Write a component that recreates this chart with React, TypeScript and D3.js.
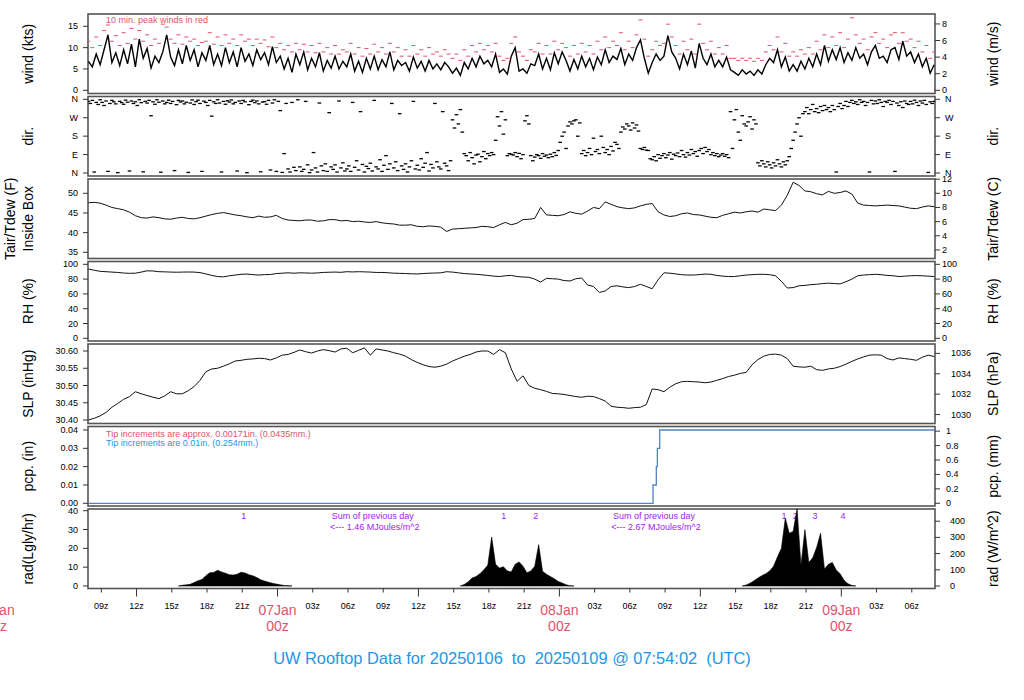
import { useEffect, useRef } from 'react';
import * as d3 from 'd3';

// 72 h window ending at the report time
const START = Date.UTC(2025, 0, 6, 7, 54, 2);
const END = Date.UTC(2025, 0, 9, 7, 54, 2);

// wind speed (kts) and 10 min peak (kts), one value every 20 minutes from START
const windKts = [
  6.8, 5.5, 8.5, 6.0, 9.5, 13.0, 6.5, 8.8, 5.8, 9.5, 6.2, 10.8,
  5.5, 12.0, 7.5, 9.8, 5.2, 8.0, 6.5, 9.0, 13.0, 7.8, 5.8, 9.5,
  6.2, 10.5, 7.0, 9.5, 5.5, 8.8, 7.0, 10.5, 6.0, 8.5, 5.8, 10.0,
  6.5, 9.0, 5.5, 10.0, 6.8, 8.5, 5.8, 9.5, 7.2, 8.8, 6.0, 10.2,
  6.5, 8.0, 5.0, 7.5, 4.2, 8.5, 6.0, 9.0, 4.8, 7.5, 5.5, 8.8,
  4.5, 7.0, 5.2, 8.0, 5.0, 6.8, 5.5, 8.5, 4.5, 6.8, 4.2, 7.5,
  5.0, 8.0, 4.8, 7.2, 5.5, 9.0, 4.8, 7.0, 5.8, 6.5, 4.5, 7.8,
  5.2, 6.8, 4.5, 7.0, 5.0, 6.2, 4.8, 6.5, 5.5, 4.0, 5.2, 3.5,
  6.5, 5.0, 7.5, 5.5, 8.0, 6.2, 7.0, 5.5, 8.5, 4.2, 5.0, 3.8,
  8.0, 10.0, 4.5, 5.0, 4.0, 6.2, 5.8, 8.5, 5.0, 7.5, 4.8, 8.8,
  6.2, 9.0, 7.0, 4.5, 7.2, 5.0, 8.0, 5.5, 7.5, 4.8, 7.8, 6.0,
  9.5, 6.5, 8.0, 7.2, 9.8, 6.0, 8.5, 7.0, 10.0, 11.8, 7.5, 4.0,
  6.5, 8.5, 7.0, 8.0, 12.8, 9.0, 7.5, 5.0, 8.5, 6.0, 9.2, 5.2,
  11.0, 7.5, 6.0, 8.5, 5.5, 7.0, 5.5, 7.8, 4.8, 4.2, 3.5, 4.8,
  3.8, 4.5, 3.5, 4.8, 3.8, 6.0, 7.5, 6.5, 9.5, 5.5, 7.8, 4.5,
  6.0, 4.5, 6.8, 5.0, 7.5, 5.5, 8.5, 6.0, 10.5, 6.8, 9.5, 7.2,
  10.0, 6.5, 8.8, 7.0, 10.0, 7.5, 8.5, 6.0, 9.0, 10.5, 7.5, 8.0,
  6.5, 9.5, 10.0, 7.2, 11.5, 8.0, 9.0, 6.5, 8.5, 5.5, 7.5, 4.0,
  6.0,
];

const peakKts = [
  11.5, 10.0, 12.5, 10.5, 14.0, 15.3, 11.5, 12.8, 10.5, 13.5, 11.0, 14.5,
  12.0, 14.0, 11.5, 13.0, 10.5, 12.0, 11.0, 15.5, 14.8, 12.0, 11.0, 13.0,
  10.8, 12.5, 11.5, 12.0, 10.5, 11.2, 11.5, 13.5, 10.8, 12.5, 10.5, 13.0,
  11.0, 12.0, 10.5, 13.0, 11.5, 12.0, 10.5, 12.0, 11.0, 11.8, 10.2, 12.5,
  10.0, 11.0, 9.5, 10.5, 9.0, 11.0, 9.5, 10.8, 9.0, 10.5, 8.8, 11.0,
  9.0, 10.0, 8.5, 10.5, 8.5, 9.5, 9.0, 11.0, 8.5, 10.0, 8.0, 9.8,
  8.5, 10.8, 9.0, 10.0, 8.5, 11.0, 9.0, 10.0, 8.0, 9.5, 8.0, 10.5,
  8.5, 9.5, 8.0, 10.0, 8.5, 9.0, 8.0, 9.5, 8.5, 7.5, 8.5, 7.0,
  9.5, 8.0, 10.5, 9.0, 11.0, 9.5, 10.5, 9.0, 11.0, 8.0, 7.0, 7.5,
  11.0, 12.5, 9.0, 8.0, 7.0, 9.5, 9.0, 11.0, 8.5, 10.5, 8.5, 11.5,
  9.5, 11.0, 10.0, 8.0, 10.5, 8.5, 11.0, 9.0, 10.5, 8.5, 11.5, 9.5,
  12.5, 10.0, 11.5, 10.5, 13.5, 9.5, 11.5, 10.0, 13.0, 16.5, 12.0, 8.0,
  9.5, 11.5, 10.5, 11.0, 15.5, 12.5, 10.5, 8.5, 11.5, 9.5, 12.0, 8.5,
  15.5, 11.0, 9.5, 11.5, 8.5, 10.0, 8.5, 10.5, 7.5, 7.5, 7.0, 7.5,
  7.0, 7.5, 6.8, 7.5, 7.0, 9.0, 10.5, 9.5, 12.5, 9.0, 11.0, 8.0,
  9.0, 8.0, 9.5, 8.5, 10.0, 8.5, 11.5, 9.5, 13.0, 10.0, 12.5, 10.5,
  13.5, 10.0, 12.0, 17.0, 13.0, 11.0, 12.0, 9.5, 12.5, 13.5, 11.0, 12.0,
  10.0, 13.0, 13.5, 11.0, 13.5, 11.5, 12.0, 10.0, 11.5, 9.0, 10.5, 7.5,
  9.0,
];

// wind direction (deg), one value every 10 minutes from START
const dirDeg = [
  350, 340, 355, 5, 345, 335, 358, 345, 330, 352, 8, 340,
  355, 348, 338, 2, 350, 344, 336, 356, 346, 10, 352, 340,
  348, 330, 358, 344, 6, 350, 342, 355, 280, 348, 336, 358,
  346, 4, 352, 338, 345, 356, 340, 350, 12, 334, 355, 347,
  352, 338, 346, 3, 342, 357, 335, 349, 356, 340, 8, 351,
  345, 330, 355, 278, 348, 340, 358, 342, 5, 350, 336, 353,
  347, 357, 338, 345, 10, 352, 340, 355, 348, 2, 334, 350,
  356, 344, 352, 338, 6, 347, 349, 336, 355, 15, 342, 358,
  8, 350, 305, 3, 95, 340, 20, 5, 345, 28, 12, 358,
  30, 8, 18, 350, 40, 2, 15, 100, 25, 5, 342, 35,
  12, 45, 8, 295, 30, 18, 40, 5, 352, 25, 50, 10,
  20, 35, 8, 345, 28, 60, 15, 300, 42, 5, 33, 22,
  48, 10, 355, 30, 20, 65, 8, 38, 85, 18, 45, 340,
  25, 55, 12, 290, 35, 18, 45, 5, 30, 60, 350, 20,
  38, 15, 70, 28, 48, 100, 10, 42, 25, 340, 55, 30,
  20, 300, 48, 35, 12, 60, 260, 220, 285, 240, 310, 200,
  95, 85, 60, 100, 75, 45, 88, 92, 55, 80, 105, 70,
  95, 85, 100, 90, 160, 275, 230, 300, 190, 260, 85, 95,
  92, 88, 100, 80, 96, 70, 90, 255, 280, 240, 85, 60,
  78, 90, 85, 72, 95, 82, 88, 75, 92, 80, 100, 86,
  110, 150, 180, 200, 120, 230, 250, 240, 255, 260, 180, 245,
  95, 110, 85, 100, 120, 90, 170, 105, 115, 95, 180, 125,
  100, 115, 90, 130, 108, 150, 140, 120, 200, 225, 215, 240,
  230, 210, 245, 220, 235, 205, 120, 115, 125, 112, 110, 70,
  65, 80, 60, 90, 72, 85, 95, 75, 88, 100, 68, 92,
  85, 98, 80, 110, 90, 78, 100, 88, 115, 95, 105, 82,
  110, 120, 95, 125, 105, 115, 90, 100, 85, 95, 80, 88,
  95, 82, 90, 75, 300, 120, 260, 310, 200, 160, 280, 240,
  230, 250, 275, 215, 260, 240, 50, 35, 60, 45, 30, 55,
  40, 25, 50, 35, 65, 45, 30, 55, 40, 60, 80, 120,
  160, 200, 240, 270, 180, 290, 300, 320, 290, 310, 335, 300,
  315, 295, 325, 305, 330, 310, 320, 300, 330, 310, 5, 325,
  340, 315, 330, 350, 325, 345, 355, 340, 348, 335, 358, 345,
  350, 330, 345, 5, 355, 338, 352, 340, 358, 345, 325, 350,
  345, 355, 335, 350, 8, 342, 330, 348, 320, 352, 340, 335,
  350, 338, 356, 345, 330, 352, 342, 355, 335, 3, 348, 340,
  350,
];

// temperature (F), RH (%), sea level pressure (inHg): one value every 30 minutes
const tempF = [
  47.6, 47.7, 47.5, 47.0, 46.4, 46.1, 45.8, 45.2, 44.3, 43.8,
  43.7, 44.0, 43.8, 43.5, 43.4, 43.7, 43.9, 43.6, 43.5, 43.8,
  44.2, 44.6, 44.9, 45.1, 44.8, 44.5, 44.3, 44.0, 43.8, 44.2,
  43.9, 44.0, 44.4, 43.6, 43.2, 43.1, 43.0, 43.2, 43.2, 42.9,
  43.0, 43.3, 43.3, 43.0, 43.1, 42.8, 42.9, 42.7, 42.6, 42.8,
  42.5, 42.3, 42.2, 41.9, 41.9, 42.0, 41.6, 41.5, 41.7, 41.6,
  41.4, 40.3, 40.9, 41.0, 41.1, 41.2, 41.3, 41.6, 41.5, 41.3,
  42.0, 42.6, 42.0, 42.4, 43.3, 43.4, 43.6, 46.4, 44.5, 44.4,
  44.3, 44.6, 45.3, 44.9, 44.7, 45.5, 46.4, 46.1, 47.8, 47.2,
  46.6, 46.3, 46.1, 46.3, 46.8, 47.2, 47.4, 45.3, 44.5, 44.1,
  44.3, 44.8, 45.0, 44.6, 44.5, 44.2, 43.9, 43.8, 44.4, 44.8,
  45.2, 45.0, 45.3, 45.5, 45.2, 46.0, 45.8, 45.6, 47.0, 49.5,
  52.8, 52.0, 50.6, 50.4, 49.9, 49.6, 50.5, 50.0, 50.2, 50.6,
  49.8, 47.5, 47.0, 46.9, 46.8, 46.9, 47.0, 46.9, 46.8, 46.5,
  46.2, 46.1, 46.5, 46.8, 46.6,
];

const rhPct = [
  93.6, 92.0, 90.5, 90.0, 89.5, 89.0, 88.2, 87.8, 88.0, 89.5,
  91.2, 91.0, 90.0, 89.8, 89.5, 89.3, 89.5, 89.6, 89.5, 88.8,
  87.0, 85.0, 83.5, 83.0, 84.5, 85.5, 86.5, 86.8, 86.0, 85.5,
  86.0, 86.2, 87.5, 88.0, 88.5, 88.0, 88.5, 88.3, 88.0, 88.4,
  89.0, 89.3, 89.5, 89.2, 90.0, 89.7, 90.0, 89.8, 89.5, 89.0,
  89.0, 88.6, 88.0, 87.8, 87.5, 87.2, 87.0, 87.5, 88.0, 88.2,
  88.5, 90.0, 89.5, 88.5, 87.5, 87.0, 86.5, 85.8, 85.0, 84.0,
  83.5, 84.5, 85.0, 83.5, 82.8, 82.5, 80.0, 76.0, 81.0, 80.5,
  80.0, 78.0, 77.5, 80.5, 81.5, 72.0, 70.0, 62.0, 64.0, 70.0,
  71.0, 69.5, 68.5, 70.0, 73.0, 70.0, 67.0, 79.0, 88.5, 88.0,
  87.0, 86.0, 85.5, 85.5, 86.0, 86.8, 86.5, 85.0, 84.0, 83.5,
  83.5, 84.5, 85.5, 86.0, 86.5, 86.5, 86.0, 84.5, 77.0, 68.0,
  68.5, 71.0, 71.5, 72.5, 73.0, 74.0, 74.5, 74.0, 73.5, 76.5,
  80.0, 84.5, 85.5, 86.0, 86.5, 86.0, 85.0, 84.5, 83.5, 84.0,
  84.5, 84.8, 84.5, 84.0, 83.5,
];

const slpInHg = [
  30.400, 30.405, 30.412, 30.422, 30.437, 30.448, 30.460, 30.468, 30.482, 30.476,
  30.471, 30.466, 30.462, 30.470, 30.482, 30.476, 30.476, 30.485, 30.497, 30.515,
  30.540, 30.548, 30.550, 30.556, 30.563, 30.571, 30.573, 30.576, 30.577, 30.579,
  30.578, 30.574, 30.580, 30.588, 30.590, 30.596, 30.603, 30.598, 30.594, 30.600,
  30.604, 30.601, 30.597, 30.606, 30.608, 30.595, 30.602, 30.609, 30.588, 30.606,
  30.603, 30.600, 30.595, 30.591, 30.585, 30.575, 30.567, 30.560, 30.555, 30.553,
  30.556, 30.562, 30.571, 30.578, 30.585, 30.590, 30.597, 30.600, 30.600, 30.590,
  30.604, 30.595, 30.548, 30.512, 30.528, 30.500, 30.492, 30.488, 30.483, 30.477,
  30.476, 30.474, 30.471, 30.468, 30.466, 30.469, 30.468, 30.462, 30.455, 30.440,
  30.437, 30.436, 30.434, 30.436, 30.437, 30.445, 30.490, 30.488, 30.482, 30.495,
  30.505, 30.511, 30.512, 30.511, 30.510, 30.508, 30.510, 30.515, 30.520, 30.526,
  30.530, 30.535, 30.538, 30.560, 30.575, 30.585, 30.590, 30.591, 30.588, 30.578,
  30.556, 30.554, 30.553, 30.556, 30.546, 30.544, 30.548, 30.550, 30.555, 30.562,
  30.570, 30.577, 30.583, 30.588, 30.589, 30.588, 30.578, 30.574, 30.580, 30.578,
  30.576, 30.573, 30.582, 30.588, 30.584,
];

// rain gauge: hours after START of each tip, and accumulated inches
const pcpHours = [0, 48.07, 48.35, 48.44, 48.64, 72];
const pcpIn = [0, 0.01, 0.02, 0.03, 0.04, 0.04];

// solar radiation (Lgly/hr), 20 minute steps; each day starts at the given step index
const radStartSteps = [23, 95, 167];
const rad06 = [
  0, 0.4, 0.6, 0.9, 1.8, 2.8, 3.4, 5.5, 7.0, 7.2, 8.3, 7.5, 6.8, 6.0, 5.8,
  6.3, 7.3, 6.9, 6.0, 5.4, 4.5, 3.3, 2.6, 2.0, 1.5, 1.0, 0.6, 0.3, 0.1, 0,
];
const rad07 = [
  0, 0.8, 2.2, 4.2, 5.0, 6.5, 8.6, 11.0, 26.0, 11.5, 9.5, 10.2, 8.0, 7.5, 11.5,
  12.8, 10.5, 7.0, 8.0, 10.5, 22.0, 7.8, 6.2, 5.0, 3.8, 2.4, 1.6, 0.7, 0.1, 0,
];
const rad08 = [
  0, 0.5, 1.5, 2.8, 4.2, 5.5, 6.5, 8.0, 10.5, 15.5, 20.0, 36.0, 28.0, 29.0, 41.0,
  11.0, 30.0, 12.5, 15.0, 20.5, 28.0, 9.0, 11.5, 12.5, 8.5, 6.5, 3.0, 1.2, 0.3, 0,
];
const radMarkLabels = ['1', '1', '2', '1', '2', '3', '4'];
const radMarkHours = [13.23, 35.37, 38.08, 59.22, 60.2, 61.87, 64.25];
const radSumHours = [24.2, 48.15];
const radSumValues = ['1.46', '2.67'];

const TITLE = 'UW Rooftop Data for 20250106  to  20250109 @ 07:54:02  (UTC)';

const RED = '#DF536B';
const BLUE = '#2297E6';
const PURPLE = '#A020F0';
const FONT = '"Liberation Sans", Arial, Helvetica, sans-serif';

const hoursToDate = (h: number) => new Date(START + h * 3600000);
const stepDate = (i: number, minutes: number) => new Date(START + i * minutes * 60000);

export default function App() {
  const svgRef = useRef<SVGSVGElement>(null);

  useEffect(() => {
    if (!svgRef.current) return;
    const svg = d3.select(svgRef.current);
    svg.selectAll('*').remove();
    svg.attr('font-family', FONT);

    const left = 88;
    const right = 935;
    const panelH = 79.5;
    const tops = [14, 96.5, 179, 261.5, 344, 426.5, 509];

    const x = d3.scaleUtc()
      .domain([new Date(START), new Date(END)])
      .range([88.4, 934.1]);

    const fmt2 = d3.format('.2f');
    const compass: Record<number, string> = { 0: 'N', 90: 'E', 180: 'S', 270: 'W', 360: 'N' };
    const panels = [
      {
        domain: [-0.75, 17.88], leftTicks: [0, 5, 10, 15], leftFmt: (v: number) => String(v),
        rightTicks: [0, 2, 4, 6, 8], toLeft: (v: number) => v * 1.94384, rightFmt: (v: number) => String(v),
        rightX: 942, leftLabel: ['wind (kts)'], rightLabel: 'wind (m/s)',
      },
      {
        domain: [-14.7, 373.7], leftTicks: [0, 90, 180, 270, 360], leftFmt: (v: number) => compass[v],
        rightTicks: [0, 90, 180, 270, 360], toLeft: (v: number) => v, rightFmt: (v: number) => compass[v],
        rightX: 945, leftLabel: ['dir.'], rightLabel: 'dir.',
      },
      {
        domain: [33.42, 53.64], leftTicks: [35, 40, 45, 50], leftFmt: (v: number) => String(v),
        rightTicks: [2, 4, 6, 8, 10, 12], toLeft: (v: number) => v * 9 / 5 + 32, rightFmt: (v: number) => String(v),
        rightX: 942, leftLabel: ['Tair/Tdew (F)', 'Inside Box'], rightLabel: 'Tair/Tdew (C)',
      },
      {
        domain: [-3.65, 103.8], leftTicks: [0, 20, 40, 60, 80, 100], leftFmt: (v: number) => String(v),
        rightTicks: [0, 20, 40, 60, 80, 100], toLeft: (v: number) => v, rightFmt: (v: number) => String(v),
        rightX: 942, leftLabel: ['RH (%)'], rightLabel: 'RH (%)',
      },
      {
        domain: [30.3899, 30.6203], leftTicks: [30.4, 30.45, 30.5, 30.55, 30.6], leftFmt: fmt2,
        rightTicks: [1030, 1032, 1034, 1036], toLeft: (v: number) => v * 0.02953, rightFmt: (v: number) => String(v),
        rightX: 951, leftLabel: ['SLP (inHg)'], rightLabel: 'SLP (hPa)',
      },
      {
        domain: [-0.00147, 0.0419], leftTicks: [0, 0.01, 0.02, 0.03, 0.04], leftFmt: fmt2,
        rightTicks: [0, 0.2, 0.4, 0.6, 0.8, 1], toLeft: (v: number) => v / 25.4, rightFmt: (v: number) => String(v),
        rightX: 946, leftLabel: ['pcp. (in)'], rightLabel: 'pcp. (mm)',
      },
      {
        domain: [-1.33, 40.9], leftTicks: [0, 10, 20, 30, 40], leftFmt: (v: number) => String(v),
        rightTicks: [0, 100, 200, 300, 400], toLeft: (v: number) => v / 11.622, rightFmt: (v: number) => String(v),
        rightX: 950, leftLabel: ['rad(Lgly/hr)'], rightLabel: 'rad (W/m^2)',
      },
    ];

    const defs = svg.append('defs');
    const ys: d3.ScaleLinear<number, number>[] = [];

    panels.forEach((p, i) => {
      const top = tops[i];
      const bottom = top + panelH;
      const y = d3.scaleLinear().domain(p.domain).range([bottom, top]);
      ys.push(y);

      defs.append('clipPath').attr('id', `clip${i}`)
        .append('rect').attr('x', left).attr('y', top).attr('width', right - left).attr('height', panelH);

      const g = svg.append('g');
      g.append('rect')
        .attr('x', left).attr('y', top).attr('width', right - left).attr('height', panelH)
        .attr('fill', 'none').attr('stroke', '#555').attr('stroke-width', 1.6);

      p.leftTicks.forEach((v) => {
        g.append('line').attr('x1', left - 5).attr('x2', left).attr('y1', y(v)).attr('y2', y(v))
          .attr('stroke', '#333');
        g.append('text').attr('x', 78).attr('y', y(v)).attr('text-anchor', 'end')
          .attr('dominant-baseline', 'central').attr('font-size', 9).text(p.leftFmt(v));
      });
      p.rightTicks.forEach((v) => {
        const yy = y(p.toLeft(v));
        g.append('line').attr('x1', right).attr('x2', right + 5).attr('y1', yy).attr('y2', yy)
          .attr('stroke', '#333');
        g.append('text').attr('x', p.rightX).attr('y', yy)
          .attr('dominant-baseline', 'central').attr('font-size', 9).text(p.rightFmt(v));
      });

      const cy = top + panelH / 2;
      if (p.leftLabel.length === 1) {
        g.append('text').attr('transform', `translate(33,${cy}) rotate(-90)`)
          .attr('text-anchor', 'middle').attr('font-size', 14).text(p.leftLabel[0]);
      } else {
        g.append('text').attr('transform', `translate(15,${cy}) rotate(-90)`)
          .attr('text-anchor', 'middle').attr('font-size', 14).text(p.leftLabel[0]);
        g.append('text').attr('transform', `translate(33,${cy}) rotate(-90)`)
          .attr('text-anchor', 'middle').attr('font-size', 14).text(p.leftLabel[1]);
      }
      g.append('text').attr('transform', `translate(998,${cy}) rotate(-90)`)
        .attr('text-anchor', 'middle').attr('font-size', 14).text(p.rightLabel);
    });

    const [yWind, yDir, yTemp, yRh, ySlp, yPcp, yRad] = ys;

    // wind
    const gw = svg.append('g').attr('clip-path', 'url(#clip0)');
    gw.selectAll('rect.peak').data(peakKts).join('rect').attr('class', 'peak')
      .attr('x', (_, i) => x(stepDate(i, 20)) - 2).attr('y', (d) => yWind(d) - 0.5)
      .attr('width', 4).attr('height', 1).attr('fill', RED);
    gw.append('path')
      .attr('d', d3.line<number>().x((_, i) => x(stepDate(i, 20))).y((d) => yWind(d))(windKts) as string)
      .attr('fill', 'none').attr('stroke', '#000').attr('stroke-width', 1.4);
    svg.append('text').attr('x', 106).attr('y', 22.5).attr('font-size', 9).attr('fill', RED)
      .text('10 min. peak winds in red');

    // direction
    const gd = svg.append('g').attr('clip-path', 'url(#clip1)');
    gd.selectAll('rect').data(dirDeg).join('rect')
      .attr('x', (_, i) => x(stepDate(i, 10)) - 1.8).attr('y', (d) => yDir(d) - 0.6)
      .attr('width', 3.6).attr('height', 1.3).attr('fill', '#000');

    const simpleLine = (vals: number[], y: d3.ScaleLinear<number, number>, clip: number) => {
      svg.append('path').attr('clip-path', `url(#clip${clip})`)
        .attr('d', d3.line<number>().x((_, i) => x(stepDate(i, 30))).y((d) => y(d))(vals) as string)
        .attr('fill', 'none').attr('stroke', '#111').attr('stroke-width', 1);
    };
    simpleLine(tempF, yTemp, 2);
    simpleLine(rhPct, yRh, 3);
    simpleLine(slpInHg, ySlp, 4);

    // precipitation
    const pcpPts = pcpHours.map((h, i) => [h, pcpIn[i]] as [number, number]);
    svg.append('path').attr('clip-path', 'url(#clip5)')
      .attr('d', d3.line<[number, number]>().curve(d3.curveStepAfter)
        .x((d) => x(hoursToDate(d[0]))).y((d) => yPcp(d[1]))(pcpPts) as string)
      .attr('fill', 'none').attr('stroke', '#4f82c6').attr('stroke-width', 1.3);
    svg.append('text').attr('x', 106).attr('y', 436.5).attr('font-size', 9).attr('fill', RED)
      .text('Tip increments are approx. 0.00171in. (0.0435mm.)');
    svg.append('text').attr('x', 106).attr('y', 445.5).attr('font-size', 9).attr('fill', BLUE)
      .text('Tip increments are 0.01in. (0.254mm.)');

    // radiation
    const gr = svg.append('g');
    radMarkLabels.forEach((lab, i) => {
      gr.append('text').attr('x', x(hoursToDate(radMarkHours[i]))).attr('y', 518.5)
        .attr('text-anchor', 'middle').attr('font-size', 9).attr('fill', PURPLE).text(lab);
    });
    radSumHours.forEach((h, i) => {
      const cx = x(hoursToDate(h));
      gr.append('text').attr('x', cx).attr('y', 518.5).attr('text-anchor', 'middle')
        .attr('font-size', 9).attr('fill', PURPLE).text('Sum of previous day');
      gr.append('text').attr('x', cx + 2).attr('y', 529.5).attr('text-anchor', 'middle')
        .attr('font-size', 9).attr('fill', PURPLE).text(`<--- ${radSumValues[i]} MJoules/m^2`);
    });
    const radArea = d3.area<number>().y0(yRad(0)).y1((d) => yRad(d));
    [rad06, rad07, rad08].forEach((vals, k) => {
      const s = radStartSteps[k];
      svg.append('path').attr('clip-path', 'url(#clip6)')
        .attr('d', radArea.x((_, i) => x(stepDate(s + i, 20)))(vals) as string)
        .attr('fill', '#000').attr('stroke', '#000').attr('stroke-width', 0.6);
    });

    // time axis
    const axisY = tops[6] + panelH;
    const ticks = d3.utcHour.every(3)!.range(new Date(START), new Date(END));
    const ga = svg.append('g');
    ticks.forEach((t) => {
      const hr = t.getUTCHours();
      const long = hr === 0 || hr === 12;
      ga.append('line').attr('x1', x(t)).attr('x2', x(t)).attr('y1', axisY).attr('y2', axisY + (long ? 8 : 4))
        .attr('stroke', '#333');
      if (hr !== 0) {
        ga.append('text').attr('x', x(t)).attr('y', 608.5).attr('text-anchor', 'middle')
          .attr('font-size', 9).text(`${String(hr).padStart(2, '0')}z`);
      }
    });
    const dayFmt = d3.utcFormat('%d%b');
    d3.utcDay.range(new Date(Date.UTC(2025, 0, 6)), new Date(END)).forEach((d) => {
      ga.append('text').attr('x', x(d)).attr('y', 615).attr('text-anchor', 'middle')
        .attr('font-size', 14).attr('fill', RED).text(dayFmt(d));
      ga.append('text').attr('x', x(d)).attr('y', 631).attr('text-anchor', 'middle')
        .attr('font-size', 14).attr('fill', RED).text('00z');
    });

    svg.append('text').attr('x', 512).attr('y', 664).attr('text-anchor', 'middle')
      .attr('font-size', 16.4).attr('fill', BLUE).attr('xml:space', 'preserve')
      .style('white-space', 'pre').text(TITLE);
  }, []);

  return (
    <div style={{ position: 'absolute', left: 0, top: 0 }}>
      <svg ref={svgRef} width={1024} height={700} style={{ display: 'block', background: '#fff' }} />
    </div>
  );
}
